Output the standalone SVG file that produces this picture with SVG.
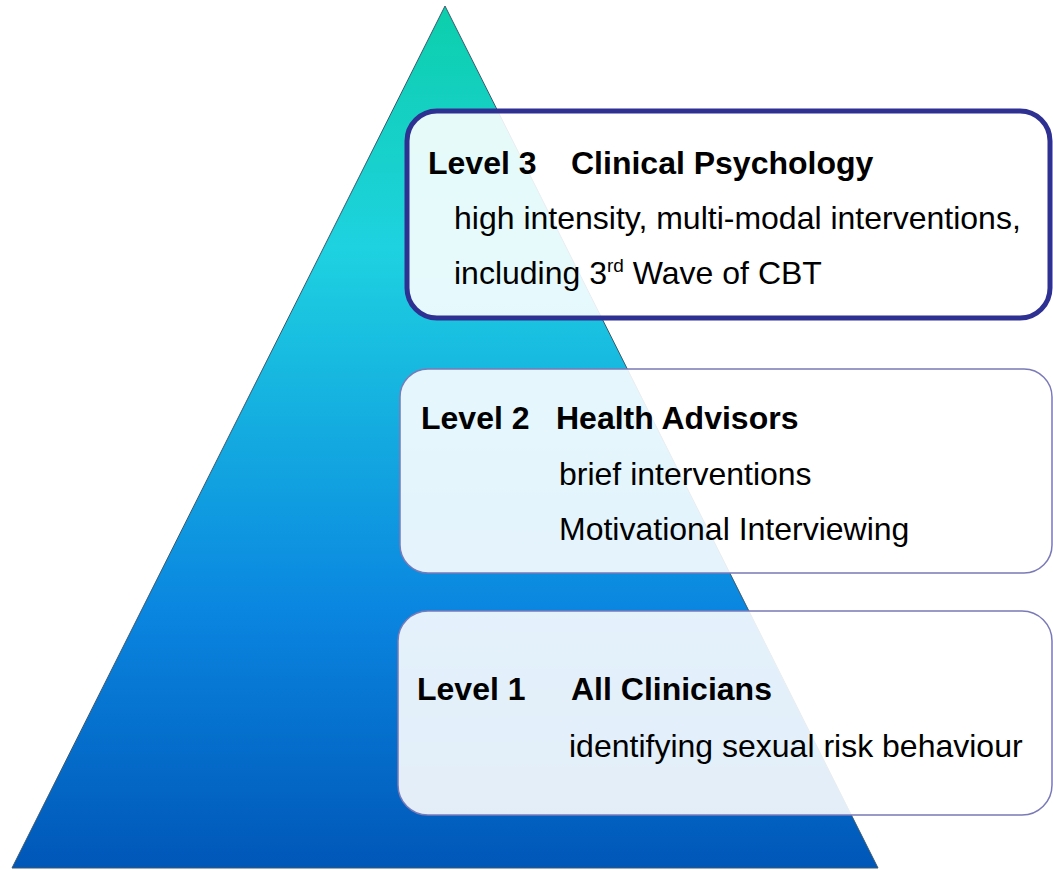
<svg xmlns="http://www.w3.org/2000/svg" width="1053" height="870" viewBox="0 0 1053 870">
<defs>
<linearGradient id="tri" x1="0" y1="0" x2="0" y2="1">
<stop offset="0" stop-color="#0ccfab"/>
<stop offset="0.28" stop-color="#1ed2e0"/>
<stop offset="0.7" stop-color="#0a86e0"/>
<stop offset="1" stop-color="#0057b8"/>
</linearGradient>
<style>
.t{font-family:"Liberation Sans",Arial,sans-serif;font-size:32px;fill:#000}
.b{font-weight:bold}
.box{fill:#ffffff;fill-opacity:0.89}
.thin{stroke:#7a7ab8;stroke-width:1.5}
</style>
</defs>
<rect width="1053" height="870" fill="#fff"/>
<g id="pyramid">
<polygon points="445,6 12,868 878,868" fill="url(#tri)" stroke="#3a5a70" stroke-width="1"/>
</g>
<g id="connectors"></g>
<g id="level3">
<rect class="box" x="407" y="111" width="643" height="207" rx="30" stroke="#2e3192" stroke-width="5"/>
<text class="t b" x="428" y="174">Level 3</text>
<text class="t b" x="571" y="174">Clinical Psychology</text>
<text class="t" x="454" y="229">high intensity, multi-modal interventions,</text>
<text class="t" x="454" y="284">including 3<tspan font-size="19" dy="-12">rd</tspan><tspan dy="12"> Wave of CBT</tspan></text>
</g>
<g id="level2">
<rect class="box thin" x="400" y="369" width="652" height="204" rx="28"/>
<text class="t b" x="421" y="429">Level 2</text>
<text class="t b" x="556" y="429">Health Advisors</text>
<text class="t" x="559" y="485">brief interventions</text>
<text class="t" x="559" y="540">Motivational Interviewing</text>
</g>
<g id="level1">
<rect class="box thin" x="398" y="611" width="654" height="204" rx="30"/>
<text class="t b" x="417" y="700">Level 1</text>
<text class="t b" x="571" y="700">All Clinicians</text>
<text class="t" x="569" y="757">identifying sexual risk behaviour</text>
</g>
</svg>
